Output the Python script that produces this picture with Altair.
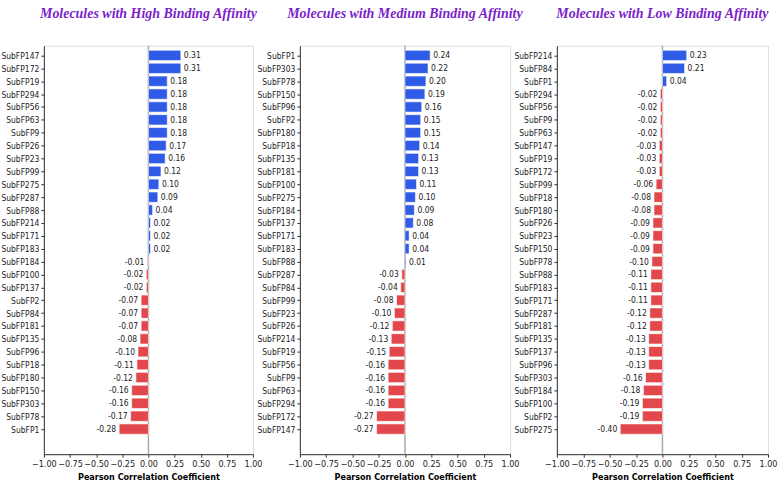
import altair as alt
import pandas as pd

# Pearson correlation of substructure fingerprints, per binding-affinity group
high_names = ["SubFP147", "SubFP172", "SubFP19", "SubFP294", "SubFP56", "SubFP63", "SubFP9",
              "SubFP26", "SubFP23", "SubFP99", "SubFP275", "SubFP287", "SubFP88", "SubFP214",
              "SubFP171", "SubFP183", "SubFP184", "SubFP100", "SubFP137", "SubFP2", "SubFP84",
              "SubFP181", "SubFP135", "SubFP96", "SubFP18", "SubFP180", "SubFP150", "SubFP303",
              "SubFP78", "SubFP1"]
high_values = [0.31, 0.31, 0.18, 0.18, 0.18, 0.18, 0.18, 0.17, 0.16, 0.12, 0.10, 0.09, 0.04, 0.02,
               0.02, 0.02, -0.01, -0.02, -0.02, -0.07, -0.07, -0.07, -0.08, -0.10, -0.11, -0.12,
               -0.16, -0.16, -0.17, -0.28]

medium_names = ["SubFP1", "SubFP303", "SubFP78", "SubFP150", "SubFP96", "SubFP2", "SubFP180",
                "SubFP18", "SubFP135", "SubFP181", "SubFP100", "SubFP275", "SubFP184", "SubFP137",
                "SubFP171", "SubFP183", "SubFP88", "SubFP287", "SubFP84", "SubFP99", "SubFP23",
                "SubFP26", "SubFP214", "SubFP19", "SubFP56", "SubFP9", "SubFP63", "SubFP294",
                "SubFP172", "SubFP147"]
medium_values = [0.24, 0.22, 0.20, 0.19, 0.16, 0.15, 0.15, 0.14, 0.13, 0.13, 0.11, 0.10, 0.09, 0.08,
                 0.04, 0.04, 0.01, -0.03, -0.04, -0.08, -0.10, -0.12, -0.13, -0.15, -0.16, -0.16,
                 -0.16, -0.16, -0.27, -0.27]

low_names = ["SubFP214", "SubFP84", "SubFP1", "SubFP294", "SubFP56", "SubFP9", "SubFP63",
             "SubFP147", "SubFP19", "SubFP172", "SubFP99", "SubFP18", "SubFP180", "SubFP26",
             "SubFP23", "SubFP150", "SubFP78", "SubFP88", "SubFP183", "SubFP171", "SubFP287",
             "SubFP181", "SubFP135", "SubFP137", "SubFP96", "SubFP303", "SubFP184", "SubFP100",
             "SubFP2", "SubFP275"]
low_values = [0.23, 0.21, 0.04, -0.02, -0.02, -0.02, -0.02, -0.03, -0.03, -0.03, -0.06, -0.08,
              -0.08, -0.09, -0.09, -0.09, -0.10, -0.11, -0.11, -0.11, -0.12, -0.12, -0.13, -0.13,
              -0.13, -0.16, -0.18, -0.19, -0.19, -0.40]

x_ticks = [-1.0, -0.75, -0.5, -0.25, 0.0, 0.25, 0.5, 0.75, 1.0]

BLUE = "#2f5be6"
RED = "#e2474b"
PURPLE = "#7a1fc8"
LABEL_FONT = "'DejaVu Sans Condensed', 'Liberation Sans Narrow', 'Liberation Sans', sans-serif"


def panel(title, names, values, width):
    n = len(names)
    df = pd.DataFrame({
        "name": names,
        "value": values,
        "idx": list(range(n)),
        "label": [f"{v:.2f}" for v in values],
    })
    df["y0"] = df["idx"] - 0.4
    df["y1"] = df["idx"] + 0.4

    label_expr = "[" + ",".join(f"'{s}'" for s in names) + "][datum.value]"
    yscale = alt.Scale(domain=[-0.75, n - 1 + 1.95], reverse=True, nice=False, zero=False)
    xscale = alt.Scale(domain=[-1, 1], nice=False)

    base = alt.Chart(df)
    x_axis = alt.Axis(values=x_ticks, format=".2f", title="Pearson Correlation Coefficient",
                      titleFontWeight="bold", titleFontSize=9, titleFont=LABEL_FONT,
                      labelFont=LABEL_FONT, labelFontSize=9, labelColor="#222",
                      labelOverlap=False, labelFlush=False,
                      tickSize=3, grid=False, domainColor="#333", tickColor="#333",
                      titlePadding=4, labelPadding=2)
    y_axis = alt.Axis(values=list(range(n)), labelExpr=label_expr, title=None,
                      labelFont=LABEL_FONT, labelFontSize=8.5, labelColor="#222",
                      labelOverlap=False,
                      tickSize=3, grid=False, domainColor="#333", tickColor="#333",
                      labelPadding=2)

    bars = base.mark_bar(stroke="white", strokeWidth=0.6).encode(
        x=alt.X("value:Q", scale=xscale, axis=x_axis),
        x2=alt.datum(0),
        y=alt.Y("y0:Q", scale=yscale, axis=y_axis),
        y2="y1:Q",
        color=alt.condition("datum.value >= 0", alt.value(BLUE), alt.value(RED)),
    )
    zero = alt.Chart(pd.DataFrame({"z": [0]})).mark_rule(color="#aaaaaa", strokeWidth=1.5).encode(
        x=alt.X("z:Q", scale=xscale, axis=x_axis)
    )
    pos_text = base.transform_filter("datum.value >= 0").mark_text(
        align="left", baseline="middle", dx=3, font=LABEL_FONT, fontSize=8.5, color="#222"
    ).encode(x=alt.X("value:Q", scale=xscale, axis=x_axis),
             y=alt.Y("idx:Q", scale=yscale, axis=y_axis), text="label:N")
    neg_text = base.transform_filter("datum.value < 0").mark_text(
        align="right", baseline="middle", dx=-3, font=LABEL_FONT, fontSize=8.5, color="#222"
    ).encode(x=alt.X("value:Q", scale=xscale, axis=x_axis),
             y=alt.Y("idx:Q", scale=yscale, axis=y_axis), text="label:N")

    return alt.layer(zero, bars, pos_text, neg_text).properties(
        width=width,
        height=410,
        title=alt.TitleParams(title, font="Liberation Serif", fontSize=14, fontStyle="italic",
                              fontWeight="bold", color=PURPLE, anchor="middle", offset=24),
    )


chart = alt.hconcat(
    panel("Molecules with High Binding Affinity", high_names, high_values, 210),
    panel("Molecules with Medium Binding Affinity", medium_names, medium_values, 211),
    panel("Molecules with Low Binding Affinity", low_names, low_values, 212),
    spacing=47,
    bounds="flush",
).properties(
    padding={"left": 0, "top": 5, "right": 0, "bottom": 0}
).configure_axis(
    labelOverlap=False
).configure_view(
    stroke="#999999", strokeWidth=1
).configure(background="white")

chart.save("out.html", embed_options={"renderer": "svg", "actions": False})
